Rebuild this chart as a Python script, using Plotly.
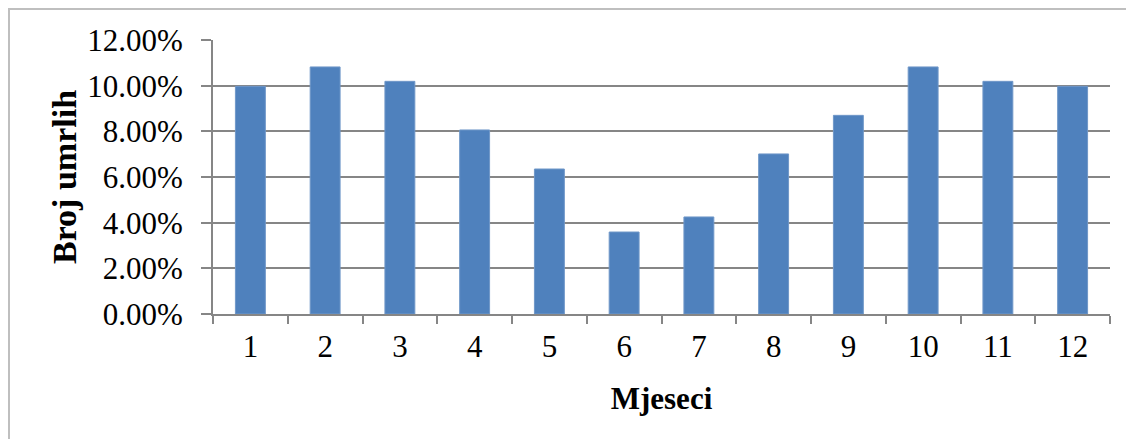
import plotly.graph_objects as go

months = ["1", "2", "3", "4", "5", "6", "7", "8", "9", "10", "11", "12"]
deaths_pct = [9.97, 10.82, 10.19, 8.06, 6.35, 3.59, 4.25, 7.01, 8.70, 10.82, 10.19, 9.97]
y_ticks = [0, 2, 4, 6, 8, 10, 12]
y_tick_labels = ["0.00%", "2.00%", "4.00%", "6.00%", "8.00%", "10.00%", "12.00%"]

W, H = 1126, 439
L, R, T, B = 213, 16, 40, 125
pw, ph = W - L - R, H - T - B

fig = go.Figure(go.Bar(
    x=months, y=deaths_pct,
    marker=dict(color="#4f81bd", line=dict(color="#6f97c8", width=1)),
    width=0.4,
))

font = "Liberation Serif, Times New Roman, serif"
fs = 31
fig.update_layout(
    width=W, height=H,
    margin=dict(l=L, r=R, t=T, b=B),
    paper_bgcolor="white", plot_bgcolor="white",
    showlegend=False,
    font=dict(family=font, color="black", size=fs),
    xaxis=dict(
        type="category",
        tickson="boundaries",
        ticks="outside", ticklen=8, tickcolor="#868686", tickwidth=2,
        showline=True, linecolor="#868686", linewidth=2,
        showgrid=False,
        tickfont=dict(size=fs, family=font),
        ticklabelstandoff=4,
        title=dict(text="<b>Mjeseci</b>", font=dict(size=fs, family=font), standoff=24),
    ),
    yaxis=dict(
        range=[0, 12],
        tickvals=y_ticks, ticktext=y_tick_labels,
        ticks="outside", ticklen=10, tickcolor="#868686", tickwidth=2,
        showline=True, linecolor="#868686", linewidth=2,
        showgrid=True, gridcolor="#868686", gridwidth=2,
        zeroline=False,
        tickfont=dict(size=fs, family=font),
        ticklabelstandoff=12,
        title=dict(text="<b>Broj umrlih</b>", font=dict(size=34, family=font), standoff=0),
    ),
)

# outer chart frame
fig.add_shape(
    type="rect", xref="paper", yref="paper",
    x0=(9 - L) / pw, x1=(W + 5 - L) / pw,
    y0=-(H + 5 - T - ph) / ph, y1=(H - 9 - B) / ph,
    line=dict(color="#bfbfbf", width=2), fillcolor="rgba(0,0,0,0)", layer="below",
)

# remove default page margin so the figure sits at the window origin
fig.write_html("out.html", config={"displayModeBar": False},
               post_script="document.body.style.margin='0';")
